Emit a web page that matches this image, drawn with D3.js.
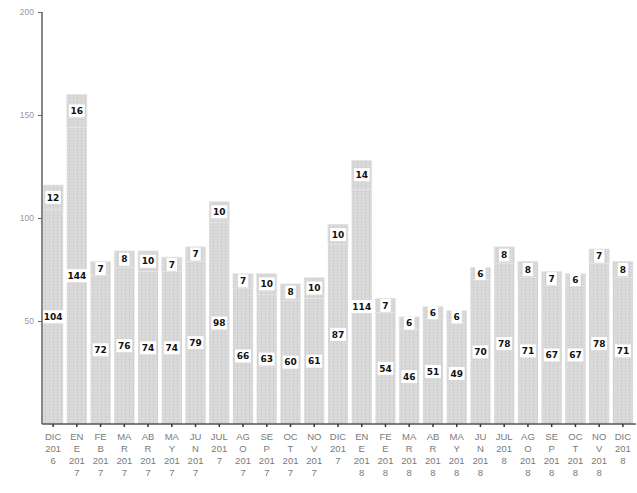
<!DOCTYPE html>
<html>
<head>
<meta charset="utf-8">
<script src="https://cdn.jsdelivr.net/npm/d3@7/dist/d3.min.js"></script>
<style>
  html, body { margin: 0; padding: 0; background: #fff; }
  svg { display: block; font-family: "DejaVu Sans", Arial, sans-serif; }
</style>
</head>
<body>
<div id="chart"></div>
<script>
// Meses (etiquetas ya partidas como en el original)
var months = [
  ['DIC','201','6'], ['EN','E','201','7'], ['FE','B','201','7'], ['MA','R','201','7'],
  ['AB','R','201','7'], ['MA','Y','201','7'], ['JU','N','201','7'], ['JUL','201','7'],
  ['AG','O','201','7'], ['SE','P','201','7'], ['OC','T','201','7'], ['NO','V','201','7'],
  ['DIC','201','7'], ['EN','E','201','8'], ['FE','E','201','8'], ['MA','R','201','8'],
  ['AB','R','201','8'], ['MA','Y','201','8'], ['JU','N','201','8'], ['JUL','201','8'],
  ['AG','O','201','8'], ['SE','P','201','8'], ['OC','T','201','8'], ['NO','V','201','8'],
  ['DIC','201','8']
];
var lower = [104, 144, 72, 76, 74, 74, 79, 98, 66, 63, 60, 61, 87, 114, 54, 46, 51, 49, 70, 78, 71, 67, 67, 78, 71];
var upper = [12, 16, 7, 8, 10, 7, 7, 10, 7, 10, 8, 10, 10, 14, 7, 6, 6, 6, 6, 8, 8, 7, 6, 7, 8];
var yTicks = [50, 100, 150, 200];

var W = 637, H = 493;
var svg = d3.select('#chart').append('svg').attr('width', W).attr('height', H);

var data = months.map(function(m, i) {
  return { key: i, label: m, lo: lower[i], hi: upper[i] };
});

var x = d3.scaleBand()
  .domain(data.map(function(d) { return d.key; }))
  .range([43, 633])
  .paddingInner(0.15)
  .paddingOuter(0);

var y = d3.scaleLinear().domain([0, 200]).range([424, 12]);

// Textura gris tipo escaneo
var defs = svg.append('defs');
var pat = defs.append('pattern')
  .attr('id', 'tex').attr('patternUnits', 'userSpaceOnUse')
  .attr('width', 4).attr('height', 3);
pat.append('rect').attr('width', 4).attr('height', 3).attr('fill', '#dcdcdc');
pat.append('rect').attr('x', 1).attr('width', 1).attr('height', 3).attr('fill', '#cfcfcf');
pat.append('rect').attr('y', 2).attr('width', 4).attr('height', 1).attr('fill', '#d4d4d4');

// Barras apiladas
var g = svg.selectAll('.bar').data(data).enter().append('g').attr('class', 'bar');

g.append('rect')
  .attr('x', function(d) { return x(d.key); })
  .attr('width', x.bandwidth())
  .attr('y', function(d) { return y(d.lo); })
  .attr('height', function(d) { return y(0) - y(d.lo); })
  .attr('fill', 'url(#tex)');

g.append('rect')
  .attr('x', function(d) { return x(d.key); })
  .attr('width', x.bandwidth())
  .attr('y', function(d) { return y(d.lo + d.hi); })
  .attr('height', function(d) { return y(d.lo) - y(d.lo + d.hi); })
  .attr('fill', 'url(#tex)')
  .attr('stroke', '#e6e6e6')
  .attr('stroke-width', 0.6);

// Etiquetas en caja blanca
function addLabel(sel, valFn, posFn) {
  var lg = sel.append('g')
    .attr('transform', function(d) {
      return 'translate(' + (x(d.key) + x.bandwidth() / 2) + ',' + y(posFn(d)) + ')';
    });
  lg.append('rect')
    .attr('x', function(d) { var n = String(valFn(d)).length; return -(n * 5.4 + 5) / 2; })
    .attr('y', -6.5)
    .attr('width', function(d) { var n = String(valFn(d)).length; return n * 5.4 + 5; })
    .attr('height', 13)
    .attr('fill', '#fff');
  lg.append('text')
    .attr('text-anchor', 'middle')
    .attr('dy', '0.35em')
    .attr('font-size', '9px')
    .attr('font-weight', 'bold')
    .attr('fill', '#111')
    .text(valFn);
}
addLabel(g, function(d) { return d.lo; }, function(d) { return d.lo / 2; });
addLabel(g, function(d) { return d.hi; }, function(d) { return d.lo + d.hi / 2; });

// Eje Y
var yAxis = svg.append('g')
  .attr('transform', 'translate(42,0)')
  .call(d3.axisLeft(y).tickValues(yTicks).tickSize(4).tickPadding(4));
yAxis.select('.domain').attr('stroke', '#555').attr('stroke-width', 1.4)
  .attr('d', 'M0,' + y(200) + 'V' + y(0));
yAxis.selectAll('.tick line').attr('stroke', '#666');
yAxis.selectAll('.tick text').attr('fill', '#999').attr('font-size', '8.5px');

// Eje X
var xAxis = svg.append('g')
  .attr('transform', 'translate(0,' + y(0) + ')')
  .call(d3.axisBottom(x).tickSize(3).tickFormat(''));
xAxis.select('.domain').attr('stroke', '#555').attr('stroke-width', 1.4)
  .attr('d', 'M42,0H636');
xAxis.selectAll('.tick line').attr('stroke', '#333').attr('stroke-width', 1.5);

xAxis.selectAll('.tick').each(function(k) {
  var t = d3.select(this).append('text')
    .attr('fill', '#7a7a7a')
    .attr('font-size', '9.5px')
    .attr('text-anchor', 'middle')
    .attr('y', 16);
  months[k].forEach(function(line, j) {
    t.append('tspan').attr('x', 0).attr('dy', j === 0 ? 0 : 12).text(line);
  });
});
</script>
</body>
</html>
